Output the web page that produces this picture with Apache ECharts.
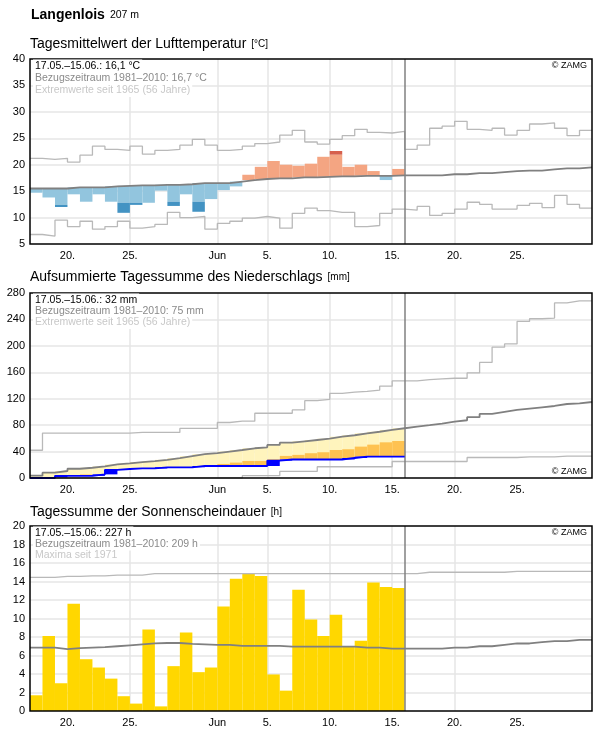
<!DOCTYPE html>
<html>
<head>
<meta charset="utf-8">
<script src="https://cdn.jsdelivr.net/npm/echarts@6/dist/echarts.min.js"></script>
<style>
  html, body { margin: 0; padding: 0; background: #fff; }
  #chart { width: 596px; height: 729px; }
</style>
</head>
<body>
<div id="chart"></div>
<script>
// Days run from 17.05. (index 0) to 30.06. (index 44), one unit per day
const dayCount = 45;
const todayIndex = 30; // 16.06.
const tickDays = [3, 8, 15, 19, 24, 29, 34, 39];
const tickLabels = ['20.', '25.', 'Jun', '5.', '10.', '15.', '20.', '25.'];

// Lufttemperatur (°C)
const tempDay = [14.7, 13.8, 12.0, 14.4, 13.0, 14.4, 13.0, 10.9, 12.4, 12.8,
  15.1, 12.2, 14.4, 11.1, 13.5, 15.2, 15.9, 18.1, 19.6, 20.7,
  20.0, 19.8, 20.2, 21.5, 22.6, 19.6, 20.0, 18.8, 17.1, 19.2];
const tempStrong = [null, null, 12.4, null, null, null, null, 12.8, 12.8, null,
  null, 13.0, null, 13.0, null, null, null, null, null, null,
  null, null, null, null, 21.9, null, null, null, null, null];
const tempMean = [15.5, 15.5, 15.5, 15.7, 15.7, 15.7, 15.9, 16.0, 16.1, 16.1,
  16.2, 16.2, 16.3, 16.5, 16.5, 16.5, 16.8, 17.1, 17.3, 17.4,
  17.4, 17.6, 17.6, 17.7, 17.8, 17.8, 17.9, 17.9, 17.9, 18.0,
  18.0, 18.0, 18.0, 18.2, 18.2, 18.4, 18.4, 18.6, 18.8, 18.9,
  18.9, 19.1, 19.3, 19.3, 19.5];
const tempMax = [21.2, 21.0, 21.2, 20.5, 21.8, 23.5, 22.9, 22.7, 23.5, 22.0,
  22.7, 22.9, 23.7, 24.8, 23.7, 22.7, 22.9, 23.5, 24.0, 24.3,
  25.6, 26.5, 24.3, 23.9, 24.8, 25.5, 26.7, 26.1, 26.0, 26.3,
  22.9, 23.7, 26.9, 27.3, 28.2, 26.7, 26.5, 26.9, 25.6, 26.5,
  27.7, 27.9, 26.9, 25.5, 26.5];
const tempMin = [6.8, 6.5, 9.5, 8.3, 9.3, 7.8, 8.3, 9.3, 8.0, 8.3,
  8.7, 11.0, 10.0, 10.2, 7.8, 8.9, 9.3, 9.9, 10.2, 9.9,
  8.0, 10.8, 11.8, 11.3, 11.0, 11.0, 8.3, 8.5, 10.8, 11.6,
  11.4, 12.1, 10.4, 10.8, 11.6, 12.9, 12.5, 11.6, 11.6, 12.3,
  12.7, 11.9, 14.2, 12.5, 11.8];

// Niederschlag, aufsummiert (mm)
const rainSum = [0, 0, 3.3, 3.3, 3.3, 5.5, 12.3, 13.6, 14.5, 14.5,
  16.2, 16.2, 16.2, 18.2, 18.2, 18.2, 18.2, 18.2, 18.2, 26.4,
  28.0, 28.0, 28.0, 28.0, 28.0, 30.3, 32.3, 32.3, 32.3, 32.3];
const rainLow = [null, null, null, null, 5.3, null, null, null, null, null,
  null, null, null, null, null, 21.3, 23.3, 25.8, 25.8, 28.3,
  33.4, 35.0, 37.5, 39.0, 42.4, 43.5, 47.5, 50.5, 54.0, 56.0];
const rainMean = [3.5, 8, 10.6, 14, 15.5, 17.5, 20.5, 22, 24, 25.5,
  27.5, 30, 33, 36, 37.5, 40, 42.4, 45, 46.5, 50,
  53.5, 55.5, 57.5, 59.5, 62.5, 64.7, 67.7, 70, 72.8, 75.3,
  77.8, 80, 82.4, 85.4, 87.4, 92, 97, 100, 103, 105,
  107, 109, 112, 113, 115];
const rainMax = [42, 68, 68, 68, 68, 68, 68, 68, 69, 69,
  69, 69, 75, 75, 75, 84, 86, 86, 98, 98,
  98, 103, 117, 119, 128, 130, 131, 133, 139, 147,
  147, 149, 150, 151, 151, 159, 175, 198, 203, 237,
  241, 242, 265, 268, 268];
const rainMin = [0, 0, 0, 0, 0, 0, 0, 0, 0, 0,
  0, 0, 0, 0, 0, 0, 0, 3.5, 3.5, 3.5,
  10, 10, 10, 17, 17, 17, 17, 17, 17, 25,
  25, 25, 25, 25, 25, 31, 31, 31, 31, 32,
  32, 32, 33, 33, 33];

// Sonnenscheindauer (h)
const sunDay = [1.7, 8.1, 3.0, 11.6, 5.6, 4.7, 3.5, 1.6, 0.8, 8.8,
  0.5, 4.85, 8.5, 4.2, 4.7, 11.3, 14.3, 14.8, 14.6, 3.95,
  2.2, 13.1, 9.9, 8.1, 10.4, 7.0, 7.6, 13.9, 13.4, 13.3];
const sunMean = [6.85, 6.85, 6.7, 6.8, 6.85, 6.9, 7.0, 7.1, 7.2, 7.3,
  7.35, 7.35, 7.25, 7.2, 7.15, 7.15, 7.05, 7.05, 7.05, 7.05,
  6.95, 6.95, 6.95, 6.95, 6.95, 6.95, 6.85, 6.85, 6.75, 6.75,
  6.75, 6.75, 6.75, 6.85, 6.85, 7.0, 7.0, 7.15, 7.3, 7.3,
  7.45, 7.55, 7.55, 7.7, 7.7];
const sunMax = [14.45, 14.45, 14.55, 14.55, 14.6, 14.6, 14.7, 14.7, 14.7, 14.85,
  14.85, 14.85, 14.85, 14.85, 14.85, 14.85, 14.85, 14.85, 14.85, 14.85,
  14.85, 14.85, 14.85, 14.85, 14.85, 14.85, 14.85, 14.85, 14.85, 14.85,
  14.85, 15.0, 15.0, 15.0, 15.0, 15.0, 15.0, 15.0, 15.1, 15.1,
  15.1, 15.1, 15.1, 15.1, 15.1];

const FONT = '"Liberation Sans", Arial, sans-serif';
const C_MEAN = '#808080';
const C_EXT = '#b9b9b9';
const C_GRID = '#e6e6e6';

const chart = echarts.init(document.getElementById('chart'));

// each daily value becomes [i, v] and the last one is held until the next day boundary
function stepData(arr) {
  const pts = arr.map((v, i) => [i, v]);
  pts.push([arr.length, arr[arr.length - 1]]);
  return pts;
}

function dayRect(api, i, a, b, color) {
  const p0 = api.coord([i, Math.max(a, b)]);
  const p1 = api.coord([i + 1, Math.min(a, b)]);
  return {
    type: 'rect',
    shape: { x: p0[0], y: p0[1], width: p1[0] - p0[0], height: p1[1] - p0[1] },
    style: { fill: color }
  };
}

function tempBars(params, api) {
  const i = params.dataIndex;
  const v = tempDay[i], m = tempMean[i], s = tempStrong[i];
  const below = v < m;
  const children = [];
  children.push(dayRect(api, i, m, s == null ? v : s, below ? '#92c5de' : '#f4a582'));
  if (s != null) children.push(dayRect(api, i, s, v, below ? '#4393c3' : '#d6604d'));
  return { type: 'group', children };
}

function rainBars(params, api) {
  const i = params.dataIndex;
  const c = rainSum[i], prev = i ? rainSum[i - 1] : 0;
  const m = rainMean[i], low = rainLow[i];
  const children = [];
  if (c < m) children.push(dayRect(api, i, c, m, '#fff4bd'));
  if (low != null && low > c) children.push(dayRect(api, i, c, low, '#fec251'));
  if (c > prev) children.push(dayRect(api, i, prev, c, '#0000ff'));
  return { type: 'group', children };
}

function sunBars(params, api) {
  const i = params.dataIndex;
  return dayRect(api, i, 0, sunDay[i], '#ffd700');
}

const tops = [59, 293, 526];
const plotH = 185;

function xAxisFor(idx) {
  return {
    type: 'value', gridIndex: idx, min: 0, max: dayCount,
    axisLine: { show: false },
    axisTick: { show: false, customValues: tickDays },
    splitLine: { show: true, showMinLine: false, showMaxLine: false, lineStyle: { color: C_GRID, width: 1.5 } },
    axisLabel: {
      customValues: tickDays,
      formatter: v => tickLabels[tickDays.indexOf(v)],
      color: '#000', fontSize: 11, fontFamily: FONT, margin: 6
    }
  };
}

function yAxisFor(idx, min, max, interval) {
  return {
    type: 'value', gridIndex: idx, min, max, interval,
    axisLine: { show: false }, axisTick: { show: false },
    splitLine: { show: true, showMinLine: false, showMaxLine: false, lineStyle: { color: C_GRID, width: 1.5 } },
    axisLabel: { color: '#000', fontSize: 11, fontFamily: FONT, margin: 5 }
  };
}

function stepLine(idx, arr, color, width, z) {
  return {
    type: 'line', xAxisIndex: idx, yAxisIndex: idx, step: 'end',
    data: stepData(arr), showSymbol: false, silent: true, z: z || 3,
    lineStyle: { color, width }
  };
}

function todayLine(idx) {
  return {
    type: 'line', xAxisIndex: idx, yAxisIndex: idx, data: [], silent: true,
    markLine: {
      silent: true, symbol: 'none', label: { show: false },
      lineStyle: { color: C_MEAN, width: 1.5, type: 'solid' },
      data: [{ xAxis: todayIndex }]
    },
    z: 6
  };
}

function panelTexts(idx, lines, spacing) {
  const colors = ['#000', '#8a8a8a', '#c8c8c8'];
  return lines.map((t, k) => ({
    type: 'text', x: 33, y: tops[idx] + 7 + k * spacing, z: 100,
    style: {
      text: t, fill: colors[k], font: '10.5px ' + FONT,
      verticalAlign: 'middle', backgroundColor: '#fff', padding: [1, 2]
    }
  }));
}

function zamg(y) {
  return {
    type: 'text', x: 587, y, z: 100,
    style: { text: '© ZAMG', fill: '#000', font: '9px ' + FONT, align: 'right', verticalAlign: 'middle' }
  };
}

function heading(text, unit, top) {
  return {
    left: 30, top, padding: 0,
    text: '{t|' + text + '} {u|[' + unit + ']}',
    textStyle: {
      fontWeight: 'normal',
      rich: {
        t: { fontSize: 14, fontWeight: 'normal', fontFamily: FONT, color: '#000', lineHeight: 18 },
        u: { fontSize: 10, fontWeight: 'normal', fontFamily: FONT, color: '#000', lineHeight: 18 }
      }
    }
  };
}

// frame drawn on top of the grids so the split lines never cover it
function frame(idx) {
  return {
    type: 'rect', z: 90, silent: true,
    shape: { x: 30, y: tops[idx], width: 562, height: plotH },
    style: { fill: 'none', stroke: '#000', lineWidth: 1.5 }
  };
}

chart.setOption({
  animation: false,
  backgroundColor: '#fff',
  title: [
    {
      left: 31, top: 6, padding: 0,
      text: '{b|Langenlois} {s|207 m}',
      textStyle: {
        fontWeight: 'normal',
        rich: {
          b: { fontSize: 14, fontWeight: 'bold', fontFamily: FONT, color: '#000', lineHeight: 18 },
          s: { fontSize: 10.5, fontWeight: 'normal', fontFamily: FONT, color: '#000', lineHeight: 18 }
        }
      }
    },
    heading('Tagesmittelwert der Lufttemperatur', '°C', 35),
    heading('Aufsummierte Tagessumme des Niederschlags', 'mm', 268),
    heading('Tagessumme der Sonnenscheindauer', 'h', 503)
  ],
  grid: tops.map(t => ({ left: 30, top: t, width: 562, height: plotH })),
  xAxis: [xAxisFor(0), xAxisFor(1), xAxisFor(2)],
  yAxis: [yAxisFor(0, 5, 40, 5), yAxisFor(1, 0, 280, 40), yAxisFor(2, 0, 20, 2)],
  series: [
    // temperature
    {
      type: 'custom', xAxisIndex: 0, yAxisIndex: 0, renderItem: tempBars,
      data: tempDay.map((v, i) => [i, v]), silent: true, z: 2
    },
    stepLine(0, tempMax, C_EXT, 1.3),
    stepLine(0, tempMin, C_EXT, 1.3),
    stepLine(0, tempMean, C_MEAN, 1.8, 4),
    todayLine(0),
    // precipitation
    {
      type: 'custom', xAxisIndex: 1, yAxisIndex: 1, renderItem: rainBars,
      data: rainSum.map((v, i) => [i, v]), silent: true, z: 2
    },
    stepLine(1, rainMax, C_EXT, 1.3),
    stepLine(1, rainMin, C_EXT, 1.3),
    stepLine(1, rainMean, C_MEAN, 1.8, 4),
    stepLine(1, rainSum, '#0000ff', 1.8, 5),
    todayLine(1),
    // sunshine
    {
      type: 'custom', xAxisIndex: 2, yAxisIndex: 2, renderItem: sunBars,
      data: sunDay.map((v, i) => [i, v]), silent: true, z: 2
    },
    stepLine(2, sunMax, C_EXT, 1.3),
    stepLine(2, sunMean, C_MEAN, 1.8, 4),
    todayLine(2)
  ],
  graphic: [
    frame(0), frame(1), frame(2),
    ...panelTexts(0, ['17.05.–15.06.: 16,1 °C', 'Bezugszeitraum 1981–2010: 16,7 °C', 'Extremwerte seit 1965 (56 Jahre)'], 12.3),
    ...panelTexts(1, ['17.05.–15.06.: 32 mm', 'Bezugszeitraum 1981–2010: 75 mm', 'Extremwerte seit 1965 (56 Jahre)'], 11.3),
    ...panelTexts(2, ['17.05.–15.06.: 227 h', 'Bezugszeitraum 1981–2010: 209 h', 'Maxima seit 1971'], 11),
    zamg(tops[0] + 7),
    zamg(tops[1] + plotH - 6),
    zamg(tops[2] + 7)
  ]
});

window.addEventListener('resize', () => chart.resize());
</script>
</body>
</html>
